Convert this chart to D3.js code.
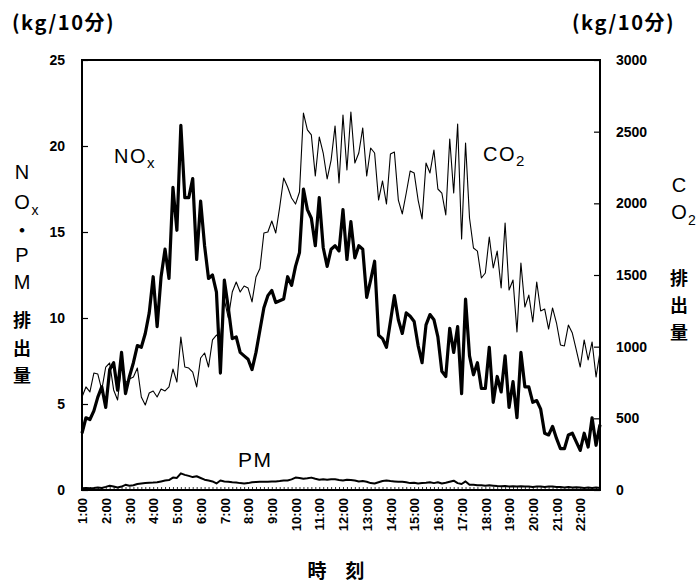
<!DOCTYPE html>
<html>
<head>
<meta charset="utf-8">
<script src="https://cdn.jsdelivr.net/npm/d3@7"></script>
<style>
  body { margin: 0; background: #fff; }
  svg { display: block; }
  text { fill: #000; }
</style>
</head>
<body>
<svg id="chart" width="698" height="582"></svg>
<script>
//
// Data (10-minute values, 1:00 .. 22:50)
//
var nox = [
  3.3, 4.2, 4.1, 4.6, 5.4, 6.0, 4.8, 7.0, 7.4, 5.8,
  8.0, 5.6, 6.6, 7.4, 8.4, 8.3, 9.1, 10.3, 12.4, 9.5,
  12.4, 14.0, 12.3, 17.6, 15.1, 21.2, 17.0, 17.0, 18.1, 13.4,
  16.8, 14.2, 12.3, 12.5, 11.5, 6.8, 12.2, 10.6, 8.8, 8.9,
  8.0, 7.8, 7.6, 7.0, 8.0, 9.3, 10.6, 11.3, 11.6, 10.9,
  11.0, 11.1, 12.4, 11.9, 13.0, 13.8, 17.5, 16.3, 15.8, 14.2,
  17.0, 14.1, 13.0, 14.0, 14.2, 13.9, 16.3, 13.4, 15.6, 13.5,
  14.2, 14.0, 11.2, 12.2, 13.3, 9.0, 8.8, 8.3, 9.8, 11.3,
  9.9, 9.1, 10.3, 10.1, 9.8, 8.4, 7.4, 9.6, 10.2, 9.9,
  8.9, 6.9, 6.6, 9.4, 8.0, 9.5, 5.6, 11.1, 7.8, 6.7,
  7.4, 5.9, 5.9, 8.3, 5.1, 6.6, 5.7, 7.8, 4.8, 6.3,
  4.2, 8.0, 6.0, 6.0, 5.1, 5.2, 4.7, 3.3, 3.2, 3.7,
  3.0, 2.4, 2.4, 3.2, 3.3, 2.8, 2.3, 3.3, 2.5, 4.2,
  2.6, 3.8
];

var co2 = [
  649, 719, 684, 816, 809, 698, 858, 886, 698, 628,
  858, 747, 774, 788, 851, 649, 593, 677, 691, 649,
  705, 691, 719, 844, 753, 1067, 858, 851, 823, 719,
  921, 956, 858, 1047, 1081, 1060, 1326, 1200, 1381, 1451,
  1381, 1423, 1409, 1312, 1486, 1545, 1793, 1800, 1877, 1793,
  1974, 2177, 2114, 2037, 1995, 2079, 2630, 2512, 2477, 2191,
  2463, 2351, 2170, 2302, 2540, 2142, 2616, 2233, 2637, 2281,
  2351, 2526, 2191, 2386, 2351, 2023, 2156, 1995, 2344, 2358,
  2023, 1926, 2072, 2226, 2212, 2023, 1891, 2281, 2212, 2372,
  2100, 2072, 1919, 2449, 2072, 2553, 1751, 2421, 1898, 1688,
  1667, 1479, 1514, 1765, 1549, 1667, 1409, 1863, 1395, 1465,
  1102, 1584, 1277, 1360, 1172, 1451, 1249, 1263, 1123, 1270,
  1165, 1012, 1005, 1151, 1095, 977, 858, 1047, 907, 1033,
  788, 963
];

var pm = [
  0.10, 0.12, 0.10, 0.12, 0.15, 0.12, 0.18, 0.25, 0.20, 0.15,
  0.20, 0.30, 0.25, 0.28, 0.35, 0.38, 0.40, 0.42, 0.43, 0.45,
  0.50, 0.55, 0.58, 0.72, 0.70, 0.97, 0.88, 0.82, 0.75, 0.80,
  0.70, 0.60, 0.55, 0.50, 0.38, 0.55, 0.50, 0.48, 0.45, 0.43,
  0.40, 0.38, 0.40, 0.45, 0.47, 0.48, 0.48, 0.48, 0.50, 0.50,
  0.52, 0.55, 0.55, 0.62, 0.72, 0.70, 0.66, 0.68, 0.72, 0.65,
  0.60, 0.62, 0.60, 0.62, 0.62, 0.58, 0.55, 0.60, 0.58, 0.55,
  0.50, 0.52, 0.48, 0.40, 0.38, 0.45, 0.52, 0.55, 0.52, 0.50,
  0.48, 0.48, 0.45, 0.40, 0.42, 0.38, 0.40, 0.42, 0.45, 0.40,
  0.45, 0.38, 0.42, 0.48, 0.54, 0.40, 0.35, 0.50, 0.30, 0.30,
  0.28, 0.27, 0.25, 0.27, 0.25, 0.23, 0.22, 0.23, 0.20, 0.22,
  0.20, 0.22, 0.20, 0.20, 0.18, 0.20, 0.20, 0.18, 0.20, 0.20,
  0.18, 0.17, 0.15, 0.18, 0.14, 0.16, 0.15, 0.12, 0.14, 0.12,
  0.15, 0.12
];

var hourLabels = ['1:00', '2:00', '3:00', '4:00', '5:00', '6:00', '7:00', '8:00',
  '9:00', '10:00', '11:00', '12:00', '13:00', '14:00', '15:00', '16:00',
  '17:00', '18:00', '19:00', '20:00', '21:00', '22:00'];

var leftTicks = [0, 5, 10, 15, 20, 25];
var rightTicks = [0, 500, 1000, 1500, 2000, 2500, 3000];

// category names for every 10 minutes
var times = nox.map(function (d, i) {
  var m = 60 + i * 10;
  return Math.floor(m / 60) + ':' + d3.format('02')(m % 60);
});

//
// Layout
//
var plotLeft = 82, plotRight = 600, plotTop = 60, plotBottom = 490;
var svg = d3.select('#chart');
var numFont = '"Liberation Sans", Arial, sans-serif';
var jpFont = '"Noto Sans CJK JP", sans-serif';

var x = d3.scalePoint().domain(times).range([plotLeft, plotRight]);
var yL = d3.scaleLinear().domain([0, 25]).range([plotBottom, plotTop]);
var yR = d3.scaleLinear().domain([0, 3000]).range([plotBottom, plotTop]);

// axes
var gx = svg.append('g')
  .attr('transform', 'translate(0,' + plotBottom + ')')
  .call(d3.axisBottom(x)
    .tickSizeInner(-3).tickSizeOuter(0)
    .tickFormat(function (d) { return hourLabels.indexOf(d) >= 0 ? d : ''; }));
gx.select('.domain').remove();
gx.selectAll('line').attr('stroke', '#000').attr('stroke-width', 0.8);
gx.selectAll('text')
  .attr('transform', 'translate(0,8) rotate(-90)')
  .attr('x', 0).attr('y', 0).attr('dy', '0.36em')
  .attr('text-anchor', 'end')
  .style('font-family', numFont).style('font-size', '13px').style('font-weight', 'bold');

var gl = svg.append('g')
  .attr('transform', 'translate(' + plotLeft + ',0)')
  .call(d3.axisLeft(yL).tickValues(leftTicks).tickSizeInner(-6).tickSizeOuter(0).tickPadding(17));
gl.select('.domain').remove();
gl.selectAll('line').attr('stroke', '#000').attr('stroke-width', 1.2);
gl.selectAll('text').style('font-family', numFont).style('font-size', '14px').style('font-weight', 'bold');

var gr = svg.append('g')
  .attr('transform', 'translate(' + plotRight + ',0)')
  .call(d3.axisRight(yR).tickValues(rightTicks).tickFormat(d3.format('d'))
    .tickSizeInner(-6).tickSizeOuter(0).tickPadding(16));
gr.select('.domain').remove();
gr.selectAll('line').attr('stroke', '#000').attr('stroke-width', 1.2);
gr.selectAll('text').style('font-family', numFont).style('font-size', '14px').style('font-weight', 'bold');

// frame
svg.append('rect')
  .attr('x', plotLeft).attr('y', plotTop)
  .attr('width', plotRight - plotLeft).attr('height', plotBottom - plotTop)
  .attr('fill', 'none').attr('stroke', '#000').attr('stroke-width', 2);

//
// Lines
//
function drawLine(values, scale, width) {
  var line = d3.line()
    .x(function (d, i) { return x(times[i]); })
    .y(function (d) { return scale(d); });
  svg.append('path')
    .datum(values)
    .attr('d', line)
    .attr('fill', 'none')
    .attr('stroke', '#000')
    .attr('stroke-width', width)
    .attr('stroke-linejoin', 'round');
}

drawLine(co2, yR, 1.1);
drawLine(pm, yL, 2);
drawLine(nox, yL, 3.2);

//
// Texts
//
function label(xp, yp, main, sub, size) {
  var t = svg.append('text')
    .attr('x', xp).attr('y', yp)
    .style('font-family', numFont).style('font-size', size + 'px')
    .style('letter-spacing', '1.5px');
  t.append('tspan').text(main);
  if (sub) {
    t.append('tspan').attr('dy', 5).style('font-size', (size - 5) + 'px').text(sub);
  }
}

label(114, 163, 'NO', 'x', 20);
label(483, 161, 'CO', '2', 20);
label(238, 467, 'PM', null, 21);

// units
function unitText(xp) {
  svg.append('text').attr('x', xp).attr('y', 30)
    .style('font-family', jpFont).style('font-size', '20px').style('font-weight', 'bold')
    .style('letter-spacing', '1.5px')
    .text('(kg/10分)');
}
unitText(12);
unitText(572);

// vertical axis titles
var leftTitle = [
  {t: 'N', y: 179}, {t: 'O', y: 209, sub: 'x'}, {t: '・', y: 237},
  {t: 'P', y: 262}, {t: 'M', y: 289}, {t: '排', y: 327}, {t: '出', y: 355}, {t: '量', y: 382}
];
var rightTitle = [
  {t: 'C', y: 192}, {t: 'O', y: 219, sub: '2'},
  {t: '排', y: 285}, {t: '出', y: 312}, {t: '量', y: 339}
];

function vtitle(items, cx) {
  items.forEach(function (d) {
    var isKanji = /[排出量・]/.test(d.t);
    svg.append('text')
      .attr('x', cx).attr('y', d.y)
      .attr('text-anchor', 'middle')
      .style('font-family', isKanji ? jpFont : numFont)
      .style('font-size', isKanji ? '18px' : '20px')
      .style('font-weight', isKanji ? 'bold' : 'normal')
      .text(d.t);
    if (d.sub) {
      svg.append('text')
        .attr('x', cx + 13).attr('y', d.y + 6)
        .attr('text-anchor', 'middle')
        .style('font-family', numFont).style('font-size', '14px')
        .text(d.sub);
    }
  });
}
vtitle(leftTitle, 22);
vtitle(rightTitle, 679);

// x title
svg.append('text').attr('x', 336).attr('y', 578)
  .attr('text-anchor', 'middle')
  .style('font-family', jpFont).style('font-size', '19px').style('font-weight', 'bold')
  .text('時　刻');
</script>
</body>
</html>
